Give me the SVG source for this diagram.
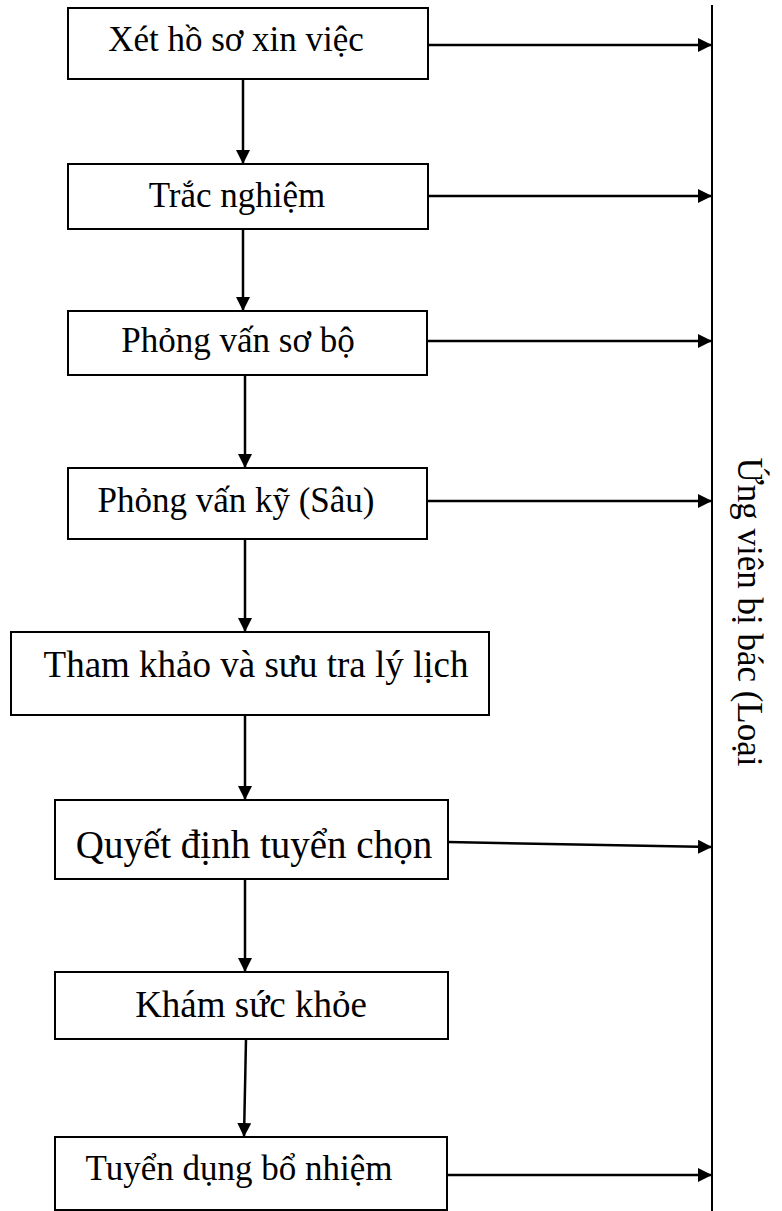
<svg xmlns="http://www.w3.org/2000/svg" width="782" height="1211" viewBox="0 0 782 1211">
  <style>
    .box { fill: #ffffff; stroke: #000000; stroke-width: 2; }
    .lbl { font-family: "Liberation Serif", "Times New Roman", serif; fill: #000000; text-anchor: middle; }
    .s { font-size: 35px; }
    .l { font-size: 37px; }
    .xl { font-size: 39px; }
    .edge { stroke: #000000; stroke-width: 2.5; fill: none; }
    .rail { stroke: #000000; stroke-width: 2; fill: none; }
  </style>
  <defs>
    <marker id="arrow" viewBox="0 0 14 14" refX="14" refY="7" markerWidth="14" markerHeight="14" markerUnits="userSpaceOnUse" orient="auto">
      <path d="M0,0 L14,7 L0,14 Z" fill="#000000"/>
    </marker>
  </defs>

  <rect width="782" height="1211" fill="#ffffff"/>

  <!-- rejection rail on the right -->
  <g id="rejected">
    <line class="rail" x1="712" y1="5" x2="712" y2="1211"/>
    <text class="lbl s" transform="translate(738,612) rotate(90)">Ứng viên bị bác (Loại</text>
  </g>

  <g id="xet-ho-so">
    <rect class="box" x="68" y="8" width="360" height="71"/>
    <text class="lbl s" x="236" y="51">Xét hồ sơ xin việc</text>
  </g>

  <g id="trac-nghiem">
    <rect class="box" x="68" y="164" width="360" height="65"/>
    <text class="lbl s" x="237" y="207">Trắc nghiệm</text>
  </g>

  <g id="phong-van-so-bo">
    <rect class="box" x="68" y="311" width="359" height="64"/>
    <text class="lbl s" x="238" y="352">Phỏng vấn sơ bộ</text>
  </g>

  <g id="phong-van-ky">
    <rect class="box" x="68" y="468" width="359" height="71"/>
    <text class="lbl s" x="236" y="512">Phỏng vấn kỹ (Sâu)</text>
  </g>

  <g id="tham-khao">
    <rect class="box" x="11" y="632" width="478" height="83"/>
    <text class="lbl l" x="256" y="677">Tham khảo và sưu tra lý lịch</text>
  </g>

  <g id="quyet-dinh">
    <rect class="box" x="55" y="800" width="393" height="79"/>
    <text class="lbl xl" x="254" y="858">Quyết định tuyển chọn</text>
  </g>

  <g id="kham-suc-khoe">
    <rect class="box" x="55" y="972" width="393" height="67"/>
    <text class="lbl l" x="251" y="1017">Khám sức khỏe</text>
  </g>

  <g id="tuyen-dung">
    <rect class="box" x="55" y="1137" width="392" height="73"/>
    <text class="lbl s" x="239" y="1180">Tuyển dụng bổ nhiệm</text>
  </g>

  <g id="connectors">
    <!-- main flow, top to bottom -->
    <line class="edge" x1="243" y1="79" x2="243" y2="164" marker-end="url(#arrow)"/>
    <line class="edge" x1="243" y1="229" x2="243" y2="311" marker-end="url(#arrow)"/>
    <line class="edge" x1="245" y1="375" x2="245" y2="468" marker-end="url(#arrow)"/>
    <line class="edge" x1="245" y1="539" x2="245" y2="632" marker-end="url(#arrow)"/>
    <line class="edge" x1="245" y1="715" x2="245" y2="800" marker-end="url(#arrow)"/>
    <line class="edge" x1="245" y1="879" x2="245" y2="972" marker-end="url(#arrow)"/>
    <line class="edge" x1="246" y1="1039" x2="244" y2="1137" marker-end="url(#arrow)"/>
    <!-- rejections to the rail -->
    <line class="edge" x1="428" y1="45" x2="712" y2="45" marker-end="url(#arrow)"/>
    <line class="edge" x1="428" y1="196" x2="712" y2="196" marker-end="url(#arrow)"/>
    <line class="edge" x1="427" y1="341" x2="712" y2="341" marker-end="url(#arrow)"/>
    <line class="edge" x1="427" y1="501" x2="712" y2="501" marker-end="url(#arrow)"/>
    <line class="edge" x1="448" y1="842" x2="712" y2="847" marker-end="url(#arrow)"/>
    <line class="edge" x1="447" y1="1175" x2="712" y2="1175" marker-end="url(#arrow)"/>
  </g>
</svg>
